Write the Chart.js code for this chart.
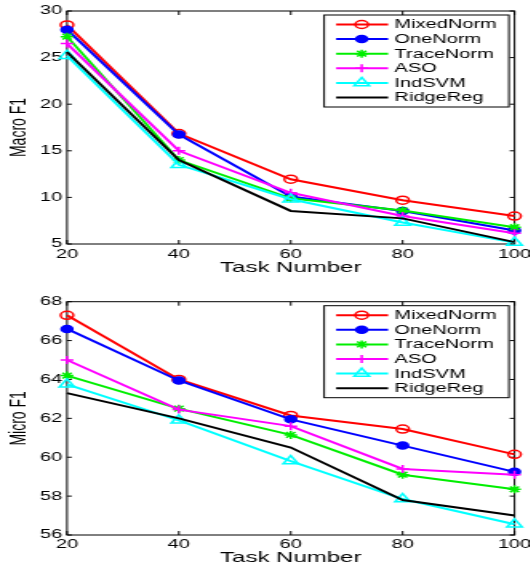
<!DOCTYPE html>
<html>
<head>
<meta charset="utf-8">
<script src="https://cdn.jsdelivr.net/npm/chart.js@4/dist/chart.umd.min.js"></script>
<style>
body { margin: 0; background: #fff; overflow: hidden; }
.wrap { position: absolute; left: 0; width: 331px; transform: scaleX(1.6); transform-origin: 0 0; }
canvas { display: block; }
</style>
</head>
<body>
<div class="wrap" style="top:0"><canvas id="macro" width="331" height="280"></canvas></div>
<div class="wrap" style="top:280px"><canvas id="micro" width="331" height="288"></canvas></div>
<script>
// data
var tasks = [20, 40, 60, 80, 100];
var methods = ["MixedNorm", "OneNorm", "TraceNorm", "ASO", "IndSVM", "RidgeReg"];

var macroMixedNorm = [28.5, 16.85, 11.95, 9.7, 8.0];
var macroOneNorm   = [28.0, 16.75, 10.1, 8.55, 6.45];
var macroTraceNorm = [27.25, 14.0, 9.9, 8.6, 6.8];
var macroASO       = [26.5, 15.0, 10.5, 8.0, 6.15];
var macroIndSVM    = [25.2, 13.5, 9.8, 7.3, 5.15];
var macroRidgeReg  = [25.6, 14.0, 8.55, 7.75, 5.2];

var microMixedNorm = [67.3, 64.0, 62.15, 61.45, 60.15];
var microOneNorm   = [66.6, 63.95, 61.95, 60.6, 59.25];
var microTraceNorm = [64.2, 62.5, 61.15, 59.1, 58.35];
var microASO       = [65.0, 62.45, 61.6, 59.4, 59.1];
var microIndSVM    = [63.75, 61.9, 59.8, 57.85, 56.55];
var microRidgeReg  = [63.3, 62.0, 60.5, 57.8, 57.0];

var macroTicks = [5, 10, 15, 20, 25, 30];
var microTicks = [56, 58, 60, 62, 64, 66, 68];

// styles
var colors = ["#ff0000", "#0000ff", "#00ee00", "#ff00ff", "#00ffff", "#000000"];
var markers = ["circle", "circle", "star", "cross", "triangle", false];
var fills = ["rgba(0,0,0,0)", "#0000ff", "#00ee00", "#ff00ff", "rgba(0,0,0,0)", "#000"];
var radii = [4, 3.5, 4, 4, 5.5, 0];

function drawMarker(ctx, i, x, y) {
    if (!markers[i]) return;
    ctx.save();
    ctx.strokeStyle = colors[i];
    ctx.fillStyle = fills[i];
    ctx.lineWidth = 1.5;
    if (Chart.helpers && Chart.helpers.drawPoint) {
        Chart.helpers.drawPoint(ctx, {pointStyle: markers[i], radius: radii[i], borderWidth: 1.5, rotation: 0}, x, y);
    } else {
        ctx.beginPath();
        ctx.arc(x, y, radii[i], 0, Math.PI * 2);
        ctx.fill();
        ctx.stroke();
    }
    ctx.restore();
}

var frame = {
    id: 'frame',
    beforeDatasetsDraw: function(chart) {
        var ctx = chart.ctx, a = chart.chartArea;
        var xs = chart.scales.x, ys = chart.scales.y;
        ctx.save();
        ctx.strokeStyle = '#000';
        ctx.lineWidth = 1;
        ctx.strokeRect(a.left, a.top, a.right - a.left, a.bottom - a.top);
        ctx.beginPath();
        xs.ticks.forEach(function(t) {
            var px = xs.getPixelForValue(t.value);
            ctx.moveTo(px, a.bottom); ctx.lineTo(px, a.bottom - 4);
            ctx.moveTo(px, a.top); ctx.lineTo(px, a.top + 4);
        });
        ys.ticks.forEach(function(t) {
            var py = ys.getPixelForValue(t.value);
            ctx.moveTo(a.left, py); ctx.lineTo(a.left + 3, py);
            ctx.moveTo(a.right, py); ctx.lineTo(a.right - 3, py);
        });
        ctx.stroke();
        ctx.restore();
    },
    afterDraw: function(chart) {
        var ctx = chart.ctx, a = chart.chartArea;
        var bx = a.right - 119, by = a.top + 4, bw = 115.5, bh = 92;
        ctx.save();
        ctx.fillStyle = '#fff';
        ctx.fillRect(bx, by, bw, bh);
        ctx.strokeStyle = '#000';
        ctx.lineWidth = 1;
        ctx.strokeRect(bx, by, bw, bh);
        ctx.font = '12.5px "Liberation Sans", Arial, sans-serif';
        ctx.textBaseline = 'middle';
        methods.forEach(function(name, i) {
            var y = by + 9.5 + i * 14.6;
            ctx.strokeStyle = colors[i];
            ctx.lineWidth = 2;
            ctx.beginPath();
            ctx.moveTo(bx + 7.5, y);
            ctx.lineTo(bx + 40, y);
            ctx.stroke();
            drawMarker(ctx, i, bx + 23.5, y);
            ctx.fillStyle = '#000';
            ctx.fillText(name, bx + 44, y + 0.5);
        });
        ctx.restore();
    }
};

var tickFont = {family: '"Liberation Sans", Arial, sans-serif', size: 12.5};

function buildChart(id, series, ticks, yTitle, pad, xHeight, tickPad, titlePad) {
    var datasets = series.map(function(vals, i) {
        return {
            label: methods[i],
            data: vals.map(function(v, k) { return {x: tasks[k], y: v}; }),
            borderColor: colors[i],
            backgroundColor: fills[i],
            borderWidth: 2,
            pointStyle: markers[i],
            pointRadius: radii[i],
            pointBorderWidth: 1.5,
            pointBackgroundColor: fills[i],
            pointBorderColor: colors[i],
            tension: 0,
            clip: false,
            order: series.length - i
        };
    });
    return new Chart(document.getElementById(id).getContext('2d'), {
        type: 'line',
        data: {datasets: datasets},
        options: {
            responsive: false,
            animation: false,
            events: [],
            layout: {padding: {left: 0, right: 9.4, top: pad, bottom: 0}},
            plugins: {legend: {display: false}, tooltip: {enabled: false}},
            scales: {
                x: {
                    type: 'linear', min: 20, max: 100,
                    afterBuildTicks: function(s) { s.ticks = tasks.map(function(v) { return {value: v}; }); },
                    afterFit: function(s) { s.height = xHeight; s.paddingLeft = 0; s.paddingRight = 0; },
                    grid: {display: false, drawTicks: false},
                    border: {display: false},
                    ticks: {color: '#000', font: tickFont, padding: tickPad, maxRotation: 0},
                    title: {display: true, text: 'Task Number', color: '#000',
                        font: {family: '"Liberation Sans", Arial, sans-serif', size: 15},
                        padding: {top: 0, bottom: titlePad}}
                },
                y: {
                    min: ticks[0], max: ticks[ticks.length - 1],
                    afterBuildTicks: function(s) { s.ticks = ticks.map(function(v) { return {value: v}; }); },
                    afterFit: function(s) { s.width = 41.9; s.paddingTop = 0; s.paddingBottom = 0; },
                    grid: {display: false, drawTicks: false},
                    border: {display: false},
                    ticks: {color: '#000', font: tickFont, padding: 3},
                    title: {display: true, text: yTitle, color: '#000',
                        font: {family: '"Liberation Sans", Arial, sans-serif', size: 14},
                        padding: {top: 4, bottom: 0}}
                }
            }
        },
        plugins: [frame]
    });
}

buildChart('macro',
    [macroMixedNorm, macroOneNorm, macroTraceNorm, macroASO, macroIndSVM, macroRidgeReg],
    macroTicks, 'Macro F1', 11, 36, 3.5, 3.5);
buildChart('micro',
    [microMixedNorm, microOneNorm, microTraceNorm, microASO, microIndSVM, microRidgeReg],
    microTicks, 'Micro F1', 21.7, 33, 2.5, 1);
</script>
</body>
</html>
